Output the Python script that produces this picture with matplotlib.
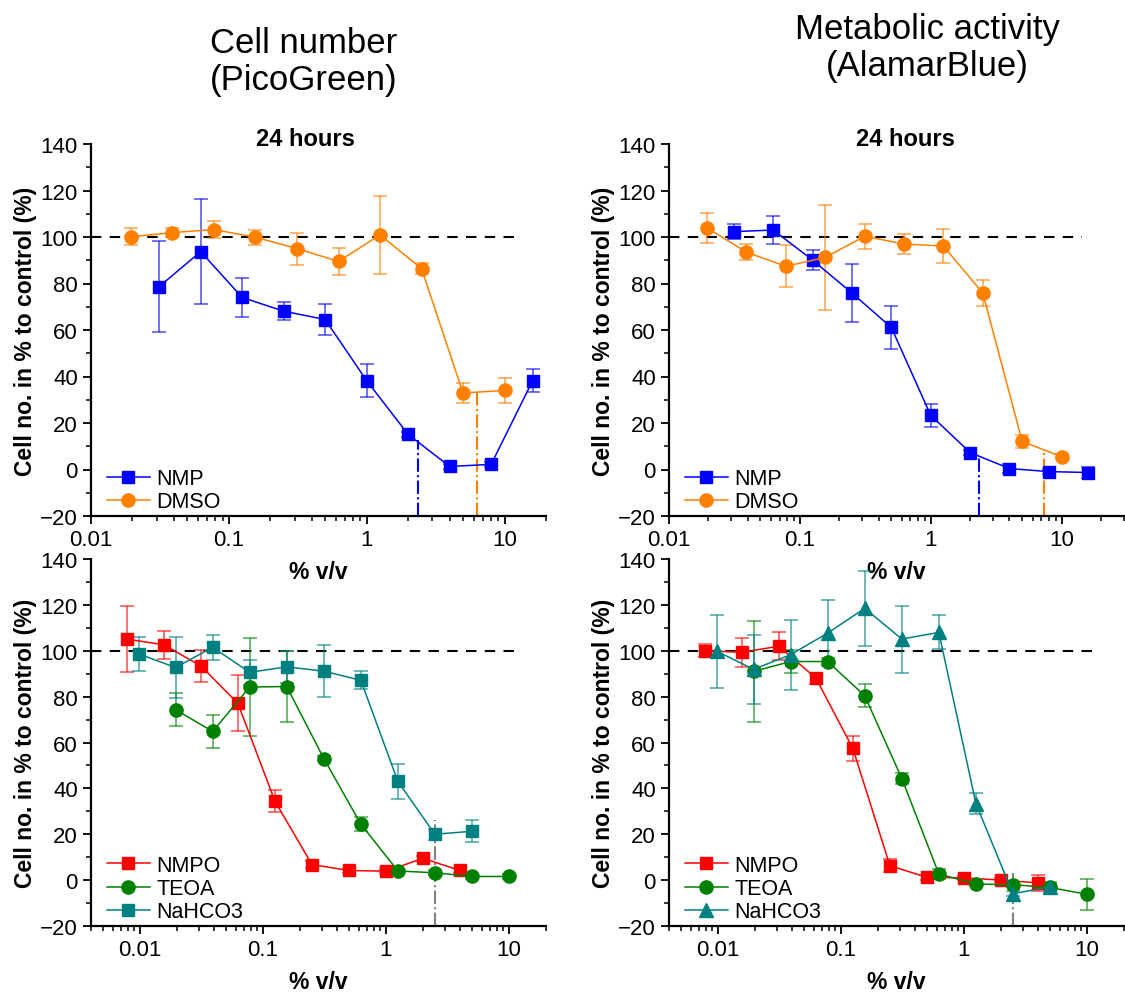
"""Cytotoxicity dose-response panels: PicoGreen (cell number) vs AlamarBlue
(metabolic activity) after 24 h, for NMP/DMSO (top) and NMPO/TEOA/NaHCO3
(bottom). Four log-x panels in a 2x2 grid, saved to out.png.
"""
import matplotlib as mpl
import matplotlib.pyplot as plt
from matplotlib.ticker import LogLocator, FixedLocator, MultipleLocator, NullFormatter

# --- Data -----------------------------------------------------------------
# dilution series used on the x axis (% v/v)
X_POW2 = [0.03125, 0.0625, 0.125, 0.25, 0.5, 1, 2, 4, 8, 16]
X_HALF = [0.0195, 0.039, 0.078, 0.156, 0.3125, 0.625, 1.25, 2.5, 5, 10]
X_NMPO = [0.0078125, 0.015625, 0.03125, 0.0625, 0.125, 0.25, 0.5, 1, 2, 4]
X_NA = [0.00977, 0.0195, 0.039, 0.078, 0.156, 0.3125, 0.625, 1.25, 2.5, 5]

# top-left: PicoGreen, NMP / DMSO
PG_NMP_Y = [78.7, 93.7, 74.0, 68.1, 64.5, 38.2, 15.1, 1.3, 2.2, 38.2]
PG_NMP_E = [19.7, 22.7, 8.4, 4.0, 6.6, 7.0, 1.0, 1.0, 1.0, 5.0]
PG_DMSO_Y = [100.1, 101.9, 103.2, 99.9, 95.0, 89.5, 100.9, 86.4, 32.9, 34.0]
PG_DMSO_E = [3.6, 2.0, 3.7, 3.3, 6.9, 5.7, 16.8, 2.5, 4.3, 5.3]

# top-right: AlamarBlue, NMP / DMSO
AB_NMP_Y = [102.3, 103.0, 90.1, 75.9, 61.1, 23.3, 7.3, 0.4, -0.9, -1.3]
AB_NMP_E = [3.2, 5.9, 4.5, 12.6, 9.3, 5.0, 1.0, 2.0, 1.0, 2.5]
AB_DMSO_Y = [103.9, 93.5, 87.4, 91.2, 100.3, 97.0, 96.1, 75.9, 12.1, 5.5]
AB_DMSO_E = [6.6, 3.3, 9.0, 22.6, 5.5, 4.5, 7.3, 5.5, 2.9, 1.0]

# bottom-left: PicoGreen, NMPO / TEOA / NaHCO3
PG_NMPO_Y = [105.1, 102.6, 93.4, 77.1, 34.5, 6.8, 4.2, 3.9, 9.5, 4.2]
PG_NMPO_E = [14.5, 6.2, 7.0, 12.2, 4.6, 1.5, 1.0, 1.0, 1.0, 1.0]
PG_TEOA_Y = [74.3, 64.8, 84.2, 84.4, 53.0, 24.4, 4.0, 3.2, 1.6, 1.6]
PG_TEOA_E = [7.3, 7.3, 21.5, 15.5, 1.0, 3.2, 1.0, 1.0, 1.0, 1.0]
PG_NA_Y = [98.6, 92.7, 101.5, 90.6, 93.0, 91.1, 87.1, 43.0, 20.0, 21.3]
PG_NA_E = [7.3, 13.3, 5.4, 5.4, 6.9, 11.2, 3.9, 7.8, 2.3, 4.7]

# bottom-right: AlamarBlue, NMPO / TEOA / NaHCO3
AB_NMPO_Y = [100.1, 99.3, 102.0, 88.1, 57.4, 6.3, 1.2, 1.0, 0.0, -1.2]
AB_NMPO_E = [3.0, 6.2, 6.0, 2.4, 5.3, 2.8, 1.0, 1.0, 1.0, 3.4]
AB_TEOA_Y = [91.0, 95.3, 95.3, 80.4, 44.3, 2.7, -1.7, -2.0, -3.2, -6.2]
AB_TEOA_E = [21.9, 5.0, 1.7, 4.9, 2.4, 2.0, 1.0, 1.0, 2.5, 6.7]
AB_NA_Y = [99.8, 91.9, 98.3, 107.7, 118.5, 105.1, 108.0, 33.4, -5.9, -3.0]
AB_NA_E = [15.9, 15.0, 15.2, 14.5, 16.4, 14.6, 7.4, 4.7, 1.0, 1.5]

# dash-dot drop lines (x position, top value)
PG_TOP_DROP_X = [2.35, 6.32]
PG_TOP_DROP_Y = [12.5, 33.6]
AB_TOP_DROP_X = [2.35, 7.33]
AB_TOP_DROP_Y = [5.3, 8.2]
PG_BOT_DROP_X = [2.5]
PG_BOT_DROP_Y = [26.2]
AB_BOT_DROP_X = [2.5]
AB_BOT_DROP_Y = [3.0]

BLUE, ORANGE = "#0000FF", "#FF8000"
RED, GREEN, TEAL, GRAY = "#FF0000", "#008000", "#008080", "#808080"

mpl.rcParams.update({
    "font.family": ["Liberation Sans", "DejaVu Sans"],
    "font.size": 16,
    "axes.linewidth": 1.6,
    "xtick.direction": "out",
    "ytick.direction": "out",
    "xtick.major.size": 6,
    "ytick.major.size": 6,
    "xtick.minor.size": 3.5,
    "ytick.minor.size": 3.5,
    "xtick.major.width": 1.3,
    "ytick.major.width": 1.3,
    "xtick.minor.width": 1.1,
    "ytick.minor.width": 1.1,
    "xtick.labelsize": 16,
    "ytick.labelsize": 16,
})

W, H = 1125, 995


def _axes(fig, left, top, right, bottom):
    """Add axes from pixel edges (origin top-left)."""
    return fig.add_axes([left / W, 1 - bottom / H, (right - left) / W,
                         (bottom - top) / H], facecolor="none")


def draw_panel(ax, series, xlim, drops, ref_end):
    for x, y, e, color, marker, ms, label in series:
        ax.errorbar(x, y, yerr=e, fmt="none", ecolor=color, alpha=0.65,
                    elinewidth=1.2, capsize=5, capthick=1.2, zorder=2)
        ax.plot(x, y, color=color, lw=1.1, marker=marker, ms=ms,
                mec=color, mfc=color, label=label, zorder=3)
    dx, dy, dc = drops
    for x, y, c in zip(dx, dy, dc):
        ax.plot([x, x], [-20, y], color=c, lw=1.5, ls="-.", zorder=2)
    ax.plot([xlim[0], ref_end], [100, 100], color="black", lw=1.5,
            ls=(0, (5, 4)), zorder=1)

    ax.set_xscale("log")
    ax.set_xlim(*xlim)
    ax.set_ylim(-20, 140)
    ax.xaxis.set_major_locator(FixedLocator([0.01, 0.1, 1, 10]))
    ax.set_xticklabels(["0.01", "0.1", "1", "10"])
    ax.xaxis.set_minor_locator(LogLocator(base=10, subs=range(2, 10)))
    ax.xaxis.set_minor_formatter(NullFormatter())
    ax.yaxis.set_major_locator(MultipleLocator(20))
    ax.yaxis.set_minor_locator(MultipleLocator(10))
    for s in ("top", "right"):
        ax.spines[s].set_visible(False)
    ax.set_xlabel("% v/v", fontweight="bold", fontsize=16.5, labelpad=7)
    ax.set_ylabel("Cell no. in % to control (%)", fontweight="bold",
                  fontsize=16.5, labelpad=2)
    ax.legend(loc="lower left", bbox_to_anchor=(0.035, 0.01), frameon=False,
              fontsize=15.5, handlelength=2.0, handletextpad=0.3,
              labelspacing=0.1, borderpad=0, borderaxespad=0)


def main():
    fig = plt.figure(figsize=(W / 100, H / 100), dpi=100)

    ax_tl = _axes(fig, 91, 145, 546, 517)
    ax_tr = _axes(fig, 669, 145, 1124, 517)
    ax_bl = _axes(fig, 91, 560, 546, 927)
    ax_br = _axes(fig, 669, 560, 1124, 927)

    draw_panel(ax_tl, [
        (X_POW2, PG_NMP_Y, PG_NMP_E, BLUE, "s", 8.5, "NMP"),
        (X_HALF, PG_DMSO_Y, PG_DMSO_E, ORANGE, "o", 9.5, "DMSO"),
    ], (0.01, 20), (PG_TOP_DROP_X, PG_TOP_DROP_Y, [BLUE, ORANGE]), 13.5)

    draw_panel(ax_tr, [
        (X_POW2, AB_NMP_Y, AB_NMP_E, BLUE, "s", 8.5, "NMP"),
        (X_HALF, AB_DMSO_Y, AB_DMSO_E, ORANGE, "o", 9.5, "DMSO"),
    ], (0.01, 30), (AB_TOP_DROP_X, AB_TOP_DROP_Y, [BLUE, ORANGE]), 14.3)

    draw_panel(ax_bl, [
        (X_NMPO, PG_NMPO_Y, PG_NMPO_E, RED, "s", 8.5, "NMPO"),
        (X_HALF, PG_TEOA_Y, PG_TEOA_E, GREEN, "o", 9.5, "TEOA"),
        (X_NA, PG_NA_Y, PG_NA_E, TEAL, "s", 8.5, "NaHCO3"),
    ], (0.004, 20), (PG_BOT_DROP_X, PG_BOT_DROP_Y, [GRAY]), 12.5)

    draw_panel(ax_br, [
        (X_NMPO, AB_NMPO_Y, AB_NMPO_E, RED, "s", 8.5, "NMPO"),
        (X_HALF, AB_TEOA_Y, AB_TEOA_E, GREEN, "o", 9.5, "TEOA"),
        (X_NA, AB_NA_Y, AB_NA_E, TEAL, "^", 10, "NaHCO3"),
    ], (0.004, 20), (AB_BOT_DROP_X, AB_BOT_DROP_Y, [GRAY]), 12.5)

    # column headers and time-point titles
    fig.text(304 / W, 1 - 62 / H, "Cell number\n(PicoGreen)", ha="center",
             va="center", fontsize=25, linespacing=1.15)
    fig.text(927 / W, 1 - 48 / H, "Metabolic activity\n(AlamarBlue)",
             ha="center", va="center", fontsize=25, linespacing=1.15)
    fig.text(305 / W, 1 - 139 / H, "24 hours", ha="center", va="center",
             fontsize=17, fontweight="bold")
    fig.text(905 / W, 1 - 139 / H, "24 hours", ha="center", va="center",
             fontsize=17, fontweight="bold")

    fig.savefig("out.png", dpi=100)
    plt.close(fig)


if __name__ == "__main__":
    main()
